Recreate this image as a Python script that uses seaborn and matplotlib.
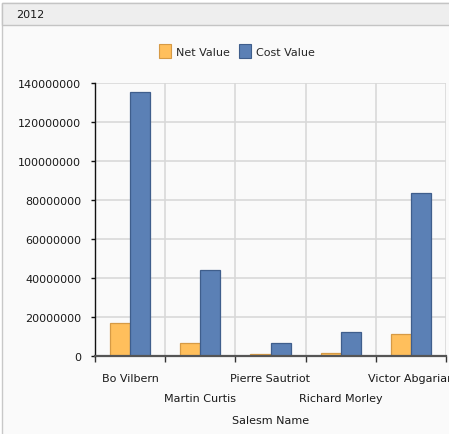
import pandas as pd
import matplotlib
matplotlib.use("Agg")
import matplotlib.pyplot as plt
from matplotlib.patches import Rectangle
from matplotlib.ticker import FixedLocator
import seaborn as sns

# values
names = ["Bo Vilbern", "Martin Curtis", "Pierre Sautriot", "Richard Morley", "Victor Abgarian"]
net_value = [16900000, 6700000, 900000, 1500000, 11400000]
cost_value = [135200000, 44000000, 6500000, 12100000, 83600000]
y_ticks = [0, 20000000, 40000000, 60000000, 80000000, 100000000, 120000000, 140000000]

df = pd.concat([
    pd.DataFrame({"Salesm Name": names, "value": net_value, "series": "Net Value"}),
    pd.DataFrame({"Salesm Name": names, "value": cost_value, "series": "Cost Value"}),
], ignore_index=True)

sns.set_style("white")
plt.rcParams["font.family"] = ["DejaVu Sans"]
plt.rcParams["font.size"] = 8

W, H = 449, 435
fig = plt.figure(figsize=(W / 100, H / 100), dpi=100)
fig.patch.set_facecolor("white")

# panel body + header strip
fig.patches.append(Rectangle((1.5 / W, -0.05), 1.1, 1 - 4 / H + 0.05, transform=fig.transFigure,
                             facecolor="#fafafa", edgecolor="#c8c8c8", lw=1, zorder=-2))
fig.patches.append(Rectangle((1.5 / W, 1 - 26 / H), 1.1, 22 / H, transform=fig.transFigure,
                             facecolor="#eeeeee", edgecolor="#c4c4c4", lw=1, zorder=-1))
fig.text(16 / W, 1 - 15 / H, "2012", ha="left", va="center", fontsize=8, color="#1a1a1a")

ax = fig.add_axes([95 / W, 1 - 357 / H, (446 - 95) / W, (357 - 84) / H])
ax.set_facecolor("#fafafa")

colors = {"Net Value": "#ffbf5c", "Cost Value": "#5b80b5"}
edges = {"Net Value": "#d69a45", "Cost Value": "#3f5e8c"}
sns.barplot(data=df, x="Salesm Name", y="value", hue="series", palette=colors,
            saturation=1, width=0.57, ax=ax, zorder=3)
for cont, s in zip(ax.containers, ["Net Value", "Cost Value"]):
    for p in cont:
        p.set_edgecolor(edges[s])
        p.set_linewidth(0.9)

ax.set_xlim(-0.5, 4.5)
ax.set_ylim(0, 140000000)
ax.set_yticks(y_ticks)
ax.set_yticklabels([str(v) for v in y_ticks])
ax.xaxis.set_minor_locator(FixedLocator([-0.5, 0.5, 1.5, 2.5, 3.5, 4.5]))

ax.grid(True, axis="y", which="major", color="#d9d9d9", lw=1.2, zorder=0)
ax.grid(True, axis="x", which="minor", color="#d9d9d9", lw=1.2, zorder=0)
ax.set_axisbelow(True)

for s in ["top", "right"]:
    ax.spines[s].set_visible(False)
ax.spines["left"].set_color("#111111")
ax.spines["left"].set_linewidth(1)
ax.spines["bottom"].set_color("#555555")
ax.spines["bottom"].set_linewidth(1.6)
ax.spines["bottom"].set_zorder(5)

ax.tick_params(axis="y", which="major", length=3, width=1, color="#111111",
               labelsize=8, labelcolor="#1a1a1a", pad=7, left=True)
ax.tick_params(axis="x", which="major", length=0, labelsize=8, labelcolor="#1a1a1a", pad=12)
ax.tick_params(axis="x", which="minor", length=4, width=1, color="#333333", bottom=True)
for t in ax.xaxis.get_major_ticks()[1::2]:
    t.set_pad(27)

ax.set_xlabel("Salesm Name", fontsize=8, color="#1a1a1a", labelpad=8)
ax.set_ylabel("")

leg = ax.legend(loc="center", bbox_to_anchor=(0.528, 1 - 52 / H), bbox_transform=fig.transFigure,
                ncol=2, frameon=False, fontsize=8, handlelength=1.1, handleheight=1.5,
                columnspacing=0.8, handletextpad=0.45)
for h, s in zip(leg.legend_handles, ["Net Value", "Cost Value"]):
    h.set_edgecolor(edges[s])
    h.set_linewidth(0.8)

fig.savefig("out.png", dpi=100)
